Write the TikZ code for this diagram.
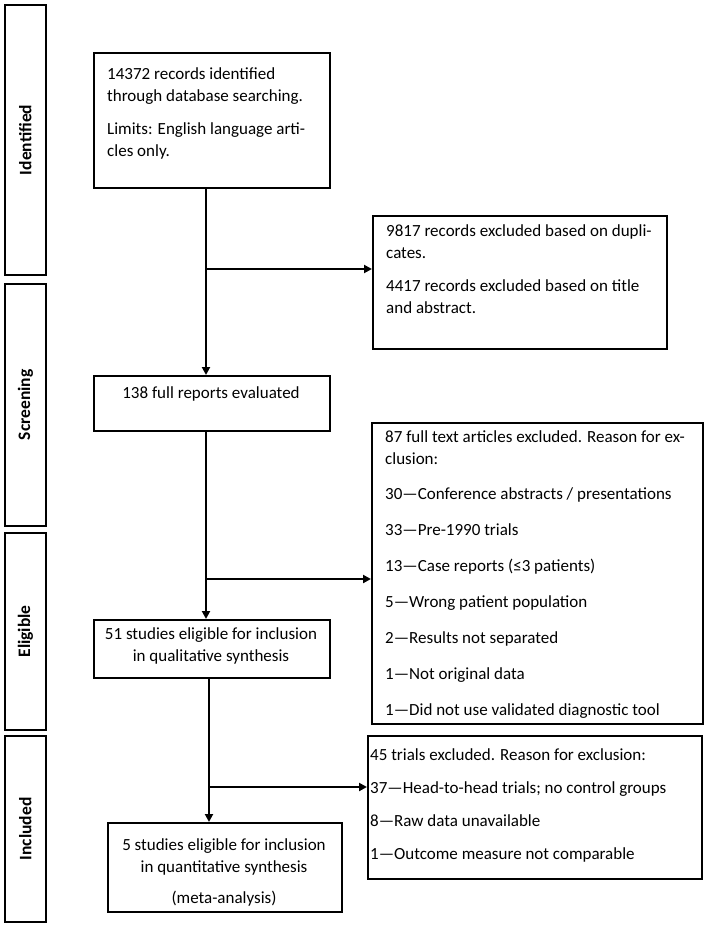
\documentclass[tikz,border=0pt]{standalone}
\usepackage{fontspec}
\setmainfont{Carlito}
\usetikzlibrary{arrows.meta}
\newcommand{\fbody}{\fontsize{17}{22}\selectfont}
\newcommand{\fside}{\fontsize{17.5}{22}\selectfont\bfseries}
\begin{document}
\begin{tikzpicture}[x=1pt,y=-1pt,
  box/.style={draw, line width=1.8pt, inner sep=0pt, anchor=north west},
  sidelbl/.style={rotate=90, font=\fside, inner sep=0pt},
  txt/.style={anchor=north west, inner sep=0pt, align=left, font=\fbody},
  ctxt/.style={inner sep=0pt, align=center, font=\fbody},
  arr/.style={line width=2.3pt, -{Triangle[length=8pt,width=8pt]}}
]
\useasboundingbox (0,0) rectangle (706,927);
% side stage boxes
\node[box, minimum width=41pt, minimum height=270pt] (s1) at (4,4) {};
\node[box, minimum width=41pt, minimum height=242pt] (s2) at (4,283) {};
\node[box, minimum width=41pt, minimum height=197pt] (s3) at (4,532) {};
\node[box, minimum width=41pt, minimum height=186pt] (s4) at (4,735) {};
\node[sidelbl] (l1) at (s1.center) {Identified};
\node[sidelbl] (l2) at (s2.center) {Screening};
\node[sidelbl] (l3) at (s3.center) {Eligible};
\node[sidelbl] (l4) at (s4.center) {Included};
% main boxes
\node[box, minimum width=236pt, minimum height=135pt] (b1) at (93,52) {};
\node[box, minimum width=294pt, minimum height=133pt] (b2) at (372,215) {};
\node[box, minimum width=236pt, minimum height=55pt] (b3) at (93,375) {};
\node[box, minimum width=331pt, minimum height=301pt] (b4) at (371,422) {};
\node[box, minimum width=236pt, minimum height=58pt] (b5) at (93,619) {};
\node[box, minimum width=334pt, minimum height=143pt] (b6) at (367,735) {};
\node[box, minimum width=234pt, minimum height=89pt] (b7) at (107,822) {};
% texts
\node[txt] (t1) at (107,67) {14372 records identified\\through database searching.\\[11pt]Limits: English language arti-\\cles only.};
\node[txt] (t2) at (386,224) {9817 records excluded based on dupli-\\cates.\\[11pt]4417 records excluded based on title\\and abstract.};
\node[ctxt] (t3) at (211,394) {138 full reports evaluated};
\node[txt] (t4) at (385,430) {87 full text articles excluded. Reason for ex-\\clusion:\\[13pt]30—Conference abstracts / presentations\\[14pt]33—Pre-1990 trials\\[14pt]13—Case reports (≤3 patients)\\[14pt]5—Wrong patient population\\[14pt]2—Results not separated\\[14pt]1—Not original data\\[14pt]1—Did not use validated diagnostic tool};
\node[ctxt] (t5) at (211,646) {51 studies eligible for inclusion\\in qualitative synthesis};
\node[ctxt] (t7) at (224,872) {5 studies eligible for inclusion\\in quantitative synthesis\\[9pt](meta-analysis)};
\node[txt] (t6) at (370,748) {45 trials excluded. Reason for exclusion:\\[11pt]37—Head-to-head trials; no control groups\\[11pt]8—Raw data unavailable\\[11pt]1—Outcome measure not comparable};
% connectors
\coordinate (j1) at (206,269);
\coordinate (j2) at (206,579);
\coordinate (j3) at (209,787);
\draw[arr] (b1.south -| j1) -- (b3.north -| j1);
\draw[arr] (j1) -- (j1 -| b2.west);
\draw[arr] (b3.south -| j2) -- (b5.north -| j2);
\draw[arr] (j2) -- (j2 -| b4.west);
\draw[arr] (b5.south -| j3) -- (b7.north -| j3);
\draw[arr] (j3) -- (j3 -| b6.west);
\end{tikzpicture}
\end{document}
